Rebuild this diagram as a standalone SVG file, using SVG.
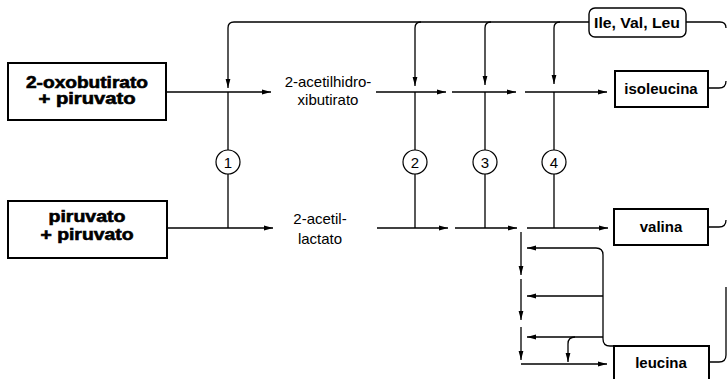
<svg xmlns="http://www.w3.org/2000/svg" width="727" height="379" viewBox="0 0 727 379">
<style>
.bg{fill:#fff}
.box{fill:#fff;stroke:#000;stroke-width:2}
.tag{fill:#fff;stroke:#000;stroke-width:1.4}
.ln{fill:none;stroke:#000;stroke-width:1.3}
.ar{fill:none;stroke:#000;stroke-width:1.3;marker-end:url(#ah)}
.circ{fill:#fff;stroke:#000;stroke-width:1.2}
.heavy{font-family:"Liberation Sans",Arial,sans-serif;font-weight:bold;font-size:16px;fill:#000;stroke:#000;stroke-width:0.6;text-anchor:middle}
.bold{font-family:"Liberation Sans",Arial,sans-serif;font-weight:bold;font-size:15px;fill:#000;text-anchor:middle}
.lbl{font-family:"Liberation Sans",Arial,sans-serif;font-size:15px;fill:#000;text-anchor:middle}
.num{font-family:"Liberation Sans",Arial,sans-serif;font-size:15px;fill:#000;text-anchor:middle}
</style>
<defs>
<marker id="ah" markerUnits="userSpaceOnUse" markerWidth="10" markerHeight="6" refX="9" refY="3" orient="auto">
<path d="M0,0.6 L9,3 L0,5.4 z" fill="#000"/>
</marker>
</defs>
<rect class="bg" x="0" y="0" width="727" height="379"/>

<g id="connectors">
<path class="ar" d="M589 22 H234 Q228 22 228 28 V88"/>
<path class="ar" d="M421 22 Q415 22 415 28 V86"/>
<path class="ar" d="M491 22 Q485 22 485 28 V85"/>
<path class="ar" d="M560 22 Q554 22 554 28 V84"/>
<path class="ln" d="M686 22 H720 Q726 22 726 28"/>
<path class="ln" d="M708 88 H719 Q726 88 726 81"/>
<path class="ln" d="M708 227 H719 Q726 227 726 220"/>
<path class="ln" d="M709 362 H719 Q726 362 726 355 V287"/>
<path class="ar" d="M166 92 H271"/>
<path class="ar" d="M376 92 H446"/>
<path class="ar" d="M452 92 H516"/>
<path class="ar" d="M525 92 H607"/>
<path class="ar" d="M167 228 H273"/>
<path class="ar" d="M377 228 H448"/>
<path class="ar" d="M455 228 H517"/>
<path class="ar" d="M527 228 H608"/>
<path class="ln" d="M228 92 V150 M228 174 V228"/>
<path class="ln" d="M415 92 V150 M415 174 V228"/>
<path class="ln" d="M485 92 V150 M485 174 V228"/>
<path class="ln" d="M554 92 V150 M554 174 V228"/>
<path class="ar" d="M521 232 V275"/>
<path class="ar" d="M521 279 V320"/>
<path class="ar" d="M521 327 V360"/>
<path class="ar" d="M521 364 H607"/>
<path class="ar" d="M614 346 H610 Q603 346 603 339 V255 Q603 248 596 248 H527"/>
<path class="ar" d="M603 296 H527"/>
<path class="ar" d="M603 337 H527"/>
<path class="ar" d="M575 337 Q568 337 568 344 V362"/>
</g>

<g id="n-oxobutirato">
<rect class="box" x="8" y="63" width="158" height="57"/>
<text class="heavy" x="87" y="88" textLength="122" lengthAdjust="spacingAndGlyphs">2-oxobutirato</text>
<text class="heavy" x="87" y="104" textLength="97" lengthAdjust="spacingAndGlyphs">+ piruvato</text>
</g>
<g id="n-piruvato">
<rect class="box" x="8" y="201" width="159" height="57"/>
<text class="heavy" x="87" y="222" textLength="77" lengthAdjust="spacingAndGlyphs">piruvato</text>
<text class="heavy" x="87" y="240" textLength="93" lengthAdjust="spacingAndGlyphs">+ piruvato</text>
</g>
<g id="n-acetilhidroxibutirato">
<text class="lbl" x="328" y="87">2-acetilhidro-</text>
<text class="lbl" x="328" y="105">xibutirato</text>
</g>
<g id="n-acetillactato">
<text class="lbl" x="320" y="224">2-acetil-</text>
<text class="lbl" x="320" y="244">lactato</text>
</g>
<g id="n-ile-val-leu">
<rect class="tag" x="589" y="8" width="97" height="29" rx="6"/>
<text class="bold" x="637" y="28" textLength="86" lengthAdjust="spacingAndGlyphs">Ile, Val, Leu</text>
</g>
<g id="n-isoleucina">
<rect class="box" x="615" y="71" width="93" height="36"/>
<text class="bold" x="661" y="94">isoleucina</text>
</g>
<g id="n-valina">
<rect class="box" x="614" y="209" width="94" height="36"/>
<text class="bold" x="661" y="232">valina</text>
</g>
<g id="n-leucina">
<rect class="box" x="614" y="346" width="95" height="40"/>
<text class="bold" x="661" y="368">leucina</text>
</g>
<g id="e1"><circle class="circ" cx="228" cy="162" r="12"/><text class="num" x="228" y="167.5">1</text></g>
<g id="e2"><circle class="circ" cx="415" cy="162" r="12"/><text class="num" x="415" y="167.5">2</text></g>
<g id="e3"><circle class="circ" cx="485" cy="162" r="12"/><text class="num" x="485" y="167.5">3</text></g>
<g id="e4"><circle class="circ" cx="554" cy="162" r="12"/><text class="num" x="554" y="167.5">4</text></g>
</svg>
